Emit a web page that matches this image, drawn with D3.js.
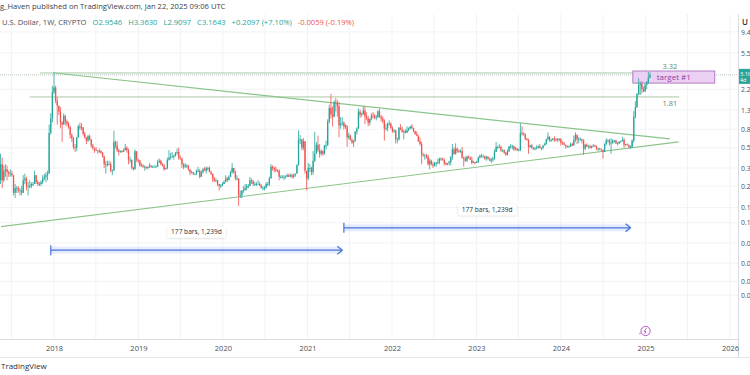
<!DOCTYPE html>
<html><head><meta charset="utf-8">
<script src="https://cdn.jsdelivr.net/npm/d3@7"></script>
<style>
body{margin:0;background:#fff;}
svg{display:block;font-family:"Open Sans","Liberation Sans",sans-serif;}
</style>
</head><body>
<svg id="c" width="750" height="375"></svg>
<script>
// ---------- DATA ----------
const startWeek = "2017-05-01";   // first weekly bar (Monday)
const firstOpen = 0.08;
const closes = [
 0.17,0.22,0.33,0.22,0.28, 0.29,0.27,0.26,0.26, 0.25,0.16,0.18,0.18,0.17, 0.17,0.16,0.22,0.23, 0.19,0.19,0.19,0.20, 0.20,0.25,0.21,0.20,0.20, 0.21,0.23,0.24,0.25, 0.26,0.73,1.05,2.05,
 2.30,1.65,1.45,1.25,0.95, 0.90,1.12,0.98,0.92, 0.84,0.69,0.64,0.51, 0.50,0.65,0.86,0.83,0.84, 0.71,0.65,0.60,0.67, 0.62,0.53,0.50,0.48, 0.47,0.46,0.46,0.44,0.40, 0.33,0.33,0.33,0.33, 0.28,0.28,0.58,0.53, 0.47,0.45,0.46,0.45,0.47, 0.50,0.47,0.37,0.37, 0.30,0.29,0.46,0.37,0.36,
 0.32,0.32,0.31,0.31, 0.30,0.31,0.32,0.31, 0.31,0.31,0.31,0.35, 0.36,0.33,0.32,0.29,0.30, 0.37,0.39,0.40,0.40, 0.41,0.44,0.45,0.39, 0.38,0.33,0.31,0.32,0.32, 0.29,0.27,0.27,0.26, 0.26,0.28,0.28,0.24,0.27, 0.29,0.28,0.30,0.30, 0.27,0.26,0.23,0.22, 0.22,0.20,0.19,0.19,0.20,
 0.21,0.23,0.22,0.24, 0.27,0.30,0.27,0.23, 0.23,0.15,0.15,0.17,0.17, 0.18,0.19,0.19,0.22, 0.22,0.20,0.20,0.20, 0.20,0.19,0.18,0.18,0.18, 0.20,0.20,0.23,0.31, 0.30,0.29,0.28,0.28,0.24, 0.24,0.24,0.24,0.24, 0.25,0.24,0.25,0.24, 0.25,0.26,0.32,0.62,0.62, 0.50,0.59,0.28,0.23,
 0.30,0.30,0.27,0.36, 0.43,0.54,0.47,0.43, 0.46,0.43,0.53,0.53,0.97, 1.37,1.16,1.10,1.58, 1.55,1.43,0.88,0.92,0.94, 0.85,0.88,0.65,0.68, 0.61,0.57,0.59,0.75, 0.81,1.25,1.15,1.17,1.28, 1.10,1.05,0.94,1.04, 1.13,1.12,1.07,1.08, 1.26,1.10,1.05,0.99,0.81, 0.82,0.92,0.92,0.83,
 0.76,0.78,0.62,0.62,0.83, 0.80,0.75,0.76,0.73, 0.78,0.82,0.86,0.82, 0.76,0.71,0.68,0.59, 0.55,0.42,0.41,0.41,0.40, 0.33,0.36,0.33,0.32, 0.34,0.34,0.35,0.38, 0.38,0.37,0.34,0.33,0.34, 0.35,0.40,0.48,0.43, 0.49,0.46,0.45,0.46,0.39, 0.38,0.36,0.40,0.39, 0.37,0.34,0.35,0.34,
 0.35,0.39,0.41,0.40,0.40, 0.38,0.40,0.38,0.36, 0.37,0.38,0.45,0.51, 0.51,0.51,0.47,0.47, 0.44,0.42,0.46,0.52,0.52, 0.52,0.48,0.49,0.47, 0.47,0.73,0.72,0.70,0.63, 0.61,0.51,0.53,0.50, 0.48,0.49,0.50,0.52, 0.50,0.50,0.53,0.55,0.62, 0.66,0.61,0.61,0.63, 0.62,0.61,0.62,0.62,
 0.57,0.56,0.54,0.52,0.51, 0.52,0.55,0.53,0.61, 0.70,0.62,0.62,0.62, 0.60,0.49,0.54,0.52,0.52, 0.50,0.52,0.53,0.52, 0.49,0.49,0.48,0.47, 0.45,0.55,0.60,0.61,0.56, 0.57,0.60,0.60,0.56, 0.56,0.58,0.59,0.61,0.54, 0.55,0.54,0.51,0.51, 0.60,1.10,1.40,1.95, 2.45,2.52,2.20,2.08,2.45,
 2.62,2.9546,3.1643
];
const highs = [
 0.20,0.25,0.43,0.39,0.32, 0.33,0.32,0.28,0.29, 0.28,0.25,0.20,0.19,0.19, 0.18,0.19,0.25,0.26, 0.24,0.21,0.22,0.21, 0.21,0.28,0.25,0.22,0.21, 0.22,0.25,0.26,0.27, 0.28,0.90,1.20,2.40,
 3.40,2.40,1.80,1.45,1.40, 0.98,1.20,1.15,1.02, 0.96,0.87,0.72,0.66, 0.55,0.66,0.90,0.95,0.93, 0.84,0.75,0.65,0.69, 0.70,0.62,0.55,0.50, 0.51,0.47,0.49,0.47,0.45, 0.41,0.36,0.36,0.36, 0.35,0.29,0.77,0.60, 0.59,0.49,0.47,0.47,0.49, 0.55,0.52,0.49,0.40, 0.37,0.31,0.48,0.45,0.38,
 0.37,0.34,0.33,0.32, 0.31,0.31,0.34,0.32, 0.32,0.32,0.32,0.37, 0.38,0.37,0.34,0.33,0.30, 0.39,0.47,0.44,0.45, 0.42,0.45,0.49,0.50, 0.41,0.39,0.34,0.34,0.33, 0.32,0.29,0.28,0.27, 0.26,0.29,0.31,0.29,0.28, 0.30,0.31,0.31,0.31, 0.31,0.28,0.26,0.24, 0.23,0.22,0.20,0.20,0.21,
 0.22,0.25,0.24,0.25, 0.28,0.34,0.30,0.28, 0.25,0.23,0.17,0.17,0.19, 0.20,0.20,0.20,0.24, 0.23,0.21,0.21,0.21, 0.22,0.21,0.20,0.19,0.19, 0.21,0.21,0.24,0.33, 0.32,0.31,0.31,0.29,0.29, 0.25,0.25,0.25,0.25, 0.26,0.26,0.26,0.26, 0.26,0.26,0.33,0.78,0.69, 0.62,0.64,0.59,0.26,
 0.34,0.33,0.31,0.46, 0.75,0.58,0.68,0.55, 0.48,0.47,0.54,0.60,1.03, 1.49,1.96,1.43,1.66, 1.76,1.67,1.60,1.09,1.08, 0.98,0.91,0.82,0.73, 0.70,0.64,0.61,0.76, 0.84,1.36,1.31,1.22,1.41, 1.41,1.23,1.12,1.05, 1.20,1.24,1.18,1.15, 1.29,1.35,1.15,1.11,1.03, 0.91,0.95,1.00,0.95,
 0.86,0.80,0.78,0.65,0.85, 0.91,0.85,0.78,0.80, 0.86,0.84,0.87,0.91, 0.83,0.77,0.76,0.69, 0.65,0.58,0.44,0.43,0.43, 0.42,0.38,0.37,0.35, 0.35,0.35,0.38,0.39, 0.39,0.39,0.38,0.35,0.34, 0.36,0.40,0.55,0.51, 0.56,0.50,0.48,0.48,0.51, 0.40,0.40,0.41,0.41, 0.40,0.40,0.36,0.35,
 0.36,0.40,0.42,0.43,0.42, 0.41,0.41,0.40,0.39, 0.39,0.40,0.48,0.58, 0.53,0.55,0.53,0.48, 0.48,0.45,0.48,0.52,0.55, 0.54,0.53,0.51,0.50, 0.49,0.93,0.86,0.74,0.72, 0.64,0.63,0.54,0.55, 0.51,0.51,0.53,0.53, 0.55,0.51,0.54,0.57,0.63, 0.74,0.67,0.63,0.64, 0.67,0.64,0.64,0.64,
 0.64,0.59,0.58,0.54,0.53, 0.53,0.57,0.57,0.68, 0.74,0.68,0.66,0.65, 0.63,0.62,0.55,0.56,0.54, 0.54,0.53,0.55,0.54, 0.53,0.50,0.50,0.49, 0.48,0.56,0.64,0.62,0.62, 0.64,0.62,0.61,0.61, 0.58,0.59,0.60,0.66,0.64, 0.55,0.56,0.54,0.53, 0.62,1.26,1.63,2.00, 2.90,2.65,2.70,2.35,2.55,
 2.70,3.40,3.3630
];
const lows = [
 0.07,0.16,0.20,0.18,0.21, 0.24,0.22,0.24,0.24, 0.24,0.15,0.14,0.16,0.16, 0.15,0.15,0.16,0.20, 0.17,0.15,0.18,0.18, 0.19,0.20,0.20,0.19,0.19, 0.19,0.20,0.22,0.21, 0.22,0.26,0.70,0.95,
 1.95,1.55,0.90,1.15,0.82, 0.58,0.90,0.88,0.86, 0.81,0.63,0.58,0.48, 0.45,0.46,0.65,0.78,0.78, 0.68,0.63,0.55,0.58, 0.60,0.50,0.47,0.44, 0.46,0.43,0.44,0.43,0.39, 0.30,0.26,0.31,0.32, 0.27,0.25,0.28,0.49, 0.45,0.41,0.44,0.44,0.45, 0.47,0.44,0.33,0.34, 0.29,0.28,0.29,0.35,0.34,
 0.31,0.31,0.30,0.28, 0.29,0.29,0.30,0.30, 0.30,0.31,0.30,0.31, 0.34,0.32,0.31,0.28,0.29, 0.29,0.36,0.37,0.39, 0.37,0.40,0.42,0.37, 0.37,0.30,0.29,0.30,0.30, 0.28,0.25,0.26,0.25, 0.25,0.25,0.27,0.23,0.24, 0.26,0.28,0.26,0.28, 0.27,0.25,0.21,0.21, 0.21,0.19,0.17,0.18,0.19,
 0.20,0.21,0.21,0.22, 0.24,0.26,0.26,0.22, 0.22,0.115,0.14,0.14,0.16, 0.17,0.17,0.18,0.19, 0.20,0.19,0.19,0.19, 0.20,0.19,0.18,0.17,0.17, 0.18,0.19,0.19,0.23, 0.28,0.27,0.27,0.27,0.22, 0.23,0.23,0.22,0.23, 0.24,0.24,0.24,0.23, 0.23,0.24,0.26,0.32,0.55, 0.47,0.47,0.26,0.17,
 0.22,0.27,0.25,0.25, 0.35,0.45,0.45,0.39, 0.41,0.41,0.42,0.48,0.53, 0.93,1.05,0.86,1.08, 1.25,1.10,0.65,0.81,0.88, 0.79,0.81,0.51,0.62, 0.60,0.55,0.51,0.59, 0.70,0.81,1.06,1.09,1.15, 0.91,1.00,0.86,0.88, 1.00,1.05,1.03,1.00, 1.07,1.07,0.97,0.93,0.60, 0.77,0.76,0.88,0.80,
 0.73,0.73,0.56,0.56,0.60, 0.78,0.73,0.62,0.72, 0.73,0.76,0.80,0.80, 0.74,0.69,0.67,0.58, 0.53,0.33,0.40,0.37,0.38, 0.32,0.29,0.32,0.30, 0.31,0.31,0.33,0.33, 0.36,0.36,0.32,0.32,0.32, 0.32,0.32,0.37,0.42, 0.42,0.44,0.44,0.44,0.38, 0.31,0.35,0.35,0.38, 0.37,0.33,0.34,0.33,
 0.34,0.34,0.38,0.39,0.39, 0.37,0.36,0.37,0.36, 0.34,0.35,0.37,0.45, 0.48,0.50,0.45,0.45, 0.43,0.41,0.41,0.45,0.49, 0.48,0.46,0.47,0.46, 0.46,0.46,0.68,0.68,0.61, 0.60,0.43,0.50,0.49, 0.48,0.47,0.48,0.49, 0.49,0.47,0.48,0.53,0.54, 0.60,0.58,0.58,0.60, 0.58,0.59,0.58,0.59,
 0.53,0.54,0.53,0.49,0.50, 0.50,0.51,0.52,0.53, 0.58,0.55,0.56,0.60, 0.56,0.42,0.47,0.51,0.49, 0.49,0.49,0.51,0.51, 0.47,0.46,0.47,0.46, 0.38,0.45,0.53,0.57,0.53, 0.43,0.55,0.57,0.55, 0.53,0.55,0.57,0.59,0.50, 0.52,0.53,0.49,0.49, 0.50,0.57,1.05,1.37, 1.90,1.90,1.97,2.05,2.05,
 2.20,2.52,2.9097
];
const yearTicks = ["2018","2019","2020","2021","2022","2023","2024","2025","2026"];
const priceTicks = [9.4, 5.5, 2.2, 1.3, 0.8, 0.5, 0.3, 0.19, 0.11, 0.075, 0.045, 0.027, 0.017, 0.012];
const lastPrice = 3.1643;
const headerLine1 = "g_Haven published on TradingView.com, Jan 22, 2025 09:06 UTC";
const headerSymbol = "U.S. Dollar, 1W, CRYPTO";
const headerOHLC = ["O2.9546","H3.3630","L2.9097","C3.1643","+0.2097 (+7.10%)"];
const headerChange = "-0.0059 (-0.19%)";
// drawings (date, price)
const triangleTop = [["2018-01-04", 3.32], ["2025-04-16", 0.626]];
const triangleBottom = [["2017-05-17", 0.068], ["2025-05-24", 0.58]];
const levels = [
  {price: 3.32, label: "3.32", from: "2017-11-01", to: "2025-05-27", pos: "above"},
  {price: 1.81, label: "1.81", from: "2017-09-18", to: "2025-05-27", pos: "below"}
];
const targetBox = {from: "2024-11-07", to: "2025-10-27", top: 3.49, bottom: 2.57, label: "target #1"};
const ranges = [
  {from: "2017-12-18", to: "2021-05-31", price: 0.0375, label: "177 bars, 1,239d"},
  {from: "2021-06-07", to: "2024-10-28", price: 0.066, label: "177 bars, 1,239d"}
];
const eventDate = "2025-01-01";

// ---------- CHART ----------
const svg = d3.select("#c");
const W = 750, H = 375;
const paneRight = 738, paneTop = 14, paneBottom = 339;
const parse = d3.utcParse("%Y-%m-%d");
const x = d3.scaleUtc().domain([parse("2018-01-01"), parse("2026-01-01")]).range([54, 730]);
const y = d3.scaleLog().domain([0.01, 10]).range([302.4, 29.4]);

const start = parse(startWeek);
const bars = closes.map((c, i) => ({
  date: d3.utcMonday.offset(start, i),
  o: i === 0 ? firstOpen : closes[i - 1],
  h: highs[i], l: lows[i], c: c
}));

svg.append("rect").attr("width", W).attr("height", H).attr("fill", "#fff");

const defs = svg.append("defs");
defs.append("clipPath").attr("id", "pane")
  .append("rect").attr("x", 0).attr("y", paneTop).attr("width", paneRight).attr("height", paneBottom - paneTop);
const shadow = defs.append("filter").attr("id", "sh").attr("x", "-20%").attr("y", "-40%").attr("width", "140%").attr("height", "180%");
shadow.append("feDropShadow").attr("dx", 0).attr("dy", 0.5).attr("stdDeviation", 1).attr("flood-color", "#000").attr("flood-opacity", 0.18);

const pane = svg.append("g").attr("clip-path", "url(#pane)");

// grid
const gridDates = [];
yearTicks.forEach(t => { gridDates.push(parse(t + "-01-01")); gridDates.push(parse(t + "-07-01")); });
gridDates.push(parse("2017-07-01"));
pane.append("g").selectAll("line").data(gridDates).join("line")
  .attr("x1", d => x(d)).attr("x2", d => x(d)).attr("y1", paneTop).attr("y2", paneBottom)
  .attr("stroke", "#f1f3f6").attr("stroke-width", 1);
pane.append("g").selectAll("line").data(priceTicks).join("line")
  .attr("x1", 0).attr("x2", paneRight).attr("y1", d => y(d)).attr("y2", d => y(d))
  .attr("stroke", "#f1f3f6").attr("stroke-width", 1);

// horizontal level lines
levels.forEach(L => {
  const x1 = x(parse(L.from)), x2 = x(parse(L.to)), yy = y(L.price);
  pane.append("line").attr("x1", x1).attr("x2", x2).attr("y1", yy).attr("y2", yy)
    .attr("stroke", "#a9c9a4").attr("stroke-width", 1);
  pane.append("text").attr("x", x2 - 2).attr("y", L.pos === "above" ? yy - 4 : yy + 9)
    .attr("text-anchor", "end").attr("font-size", 7.5).attr("fill", "#5d8a6a").text(L.label);
});

// current price line
pane.append("line").attr("x1", 0).attr("x2", paneRight).attr("y1", y(lastPrice)).attr("y2", y(lastPrice))
  .attr("stroke", "#b8c4c2").attr("stroke-width", 1).attr("stroke-dasharray", "1,1");

// triangle lines
const tl = d3.line().x(d => x(parse(d[0]))).y(d => y(d[1]));
[triangleTop, triangleBottom].forEach(t => {
  pane.append("path").attr("d", tl(t)).attr("fill", "none").attr("stroke", "#8cc48a").attr("stroke-width", 1.2);
});

// target box
const bx1 = x(parse(targetBox.from)), bx2 = x(parse(targetBox.to));
const by1 = y(targetBox.top), by2 = y(targetBox.bottom);
pane.append("rect").attr("x", bx1).attr("y", by1).attr("width", bx2 - bx1).attr("height", by2 - by1)
  .attr("fill", "#ecd0f3").attr("stroke", "#b27ec2").attr("stroke-width", 1);
pane.append("text").attr("x", (bx1 + bx2) / 2).attr("y", (by1 + by2) / 2 + 2.8)
  .attr("text-anchor", "middle").attr("font-size", 8).attr("fill", "#8e3fa3").text(targetBox.label);

// candles
const up = "#26a69a", down = "#ef5350";
const cg = pane.append("g");
cg.selectAll("line").data(bars).join("line")
  .attr("x1", d => x(d.date)).attr("x2", d => x(d.date))
  .attr("y1", d => y(d.h)).attr("y2", d => y(d.l))
  .attr("stroke", d => d.c >= d.o ? up : down).attr("stroke-width", 0.8);
cg.selectAll("rect").data(bars).join("rect")
  .attr("x", d => x(d.date) - 0.65).attr("width", 1.3)
  .attr("y", d => y(Math.max(d.o, d.c)))
  .attr("height", d => Math.max(0.8, Math.abs(y(d.o) - y(d.c))))
  .attr("fill", d => d.c >= d.o ? up : down);

// date range measurements
ranges.forEach(r => {
  const x1 = x(parse(r.from)), x2 = x(parse(r.to)), yy = y(r.price);
  const g = pane.append("g");
  g.append("rect").attr("x", x1).attr("y", yy - 3.5).attr("width", x2 - x1).attr("height", 7)
    .attr("fill", "#2962ff").attr("fill-opacity", 0.12);
  g.append("line").attr("x1", x1).attr("x2", x2).attr("y1", yy).attr("y2", yy)
    .attr("stroke", "#4a72d6").attr("stroke-width", 1.2);
  g.append("line").attr("x1", x1).attr("x2", x1).attr("y1", yy - 5).attr("y2", yy + 5)
    .attr("stroke", "#4a72d6").attr("stroke-width", 1.2);
  g.append("path").attr("d", `M${x2 - 5},${yy - 4}L${x2},${yy}L${x2 - 5},${yy + 4}`)
    .attr("fill", "none").attr("stroke", "#4a72d6").attr("stroke-width", 1.2);
  const cx = (x1 + x2) / 2, cy = yy - 18;
  g.append("rect").attr("x", cx - 29).attr("y", cy - 5.5).attr("width", 58).attr("height", 11)
    .attr("rx", 1.5).attr("fill", "#fff").attr("filter", "url(#sh)");
  g.append("text").attr("x", cx).attr("y", cy + 2.3).attr("text-anchor", "middle")
    .attr("font-size", 6.6).attr("fill", "#2a2e39").text(r.label);
});

// event icon
const ex = x(parse(eventDate)), ey = 331;
const eg = svg.append("g");
eg.append("circle").attr("cx", ex).attr("cy", ey).attr("r", 4.6).attr("fill", "#fff")
  .attr("stroke", "#b25cc9").attr("stroke-width", 1);
eg.append("path").attr("d", `M${ex + 1},${ey - 3}L${ex - 1.5},${ey + 0.5}L${ex + 0.5},${ey + 0.5}L${ex - 1},${ey + 3}`)
  .attr("fill", "none").attr("stroke", "#b25cc9").attr("stroke-width", 0.9);
eg.append("path").attr("d", `M${ex - 4.6},${ey + 2}L${ex - 6.5},${ey + 2.5}`)
  .attr("stroke", "#b25cc9").attr("stroke-width", 0.8);

// frame lines
svg.append("line").attr("x1", paneRight + 0.5).attr("x2", paneRight + 0.5).attr("y1", paneTop).attr("y2", 357)
  .attr("stroke", "#d9dbe0").attr("stroke-width", 1);
svg.append("line").attr("x1", 0).attr("x2", W).attr("y1", 357.5).attr("y2", 357.5)
  .attr("stroke", "#e6e8ec").attr("stroke-width", 1);

// x axis
const xAxis = d3.axisBottom(x).tickValues(yearTicks.map(t => parse(t + "-01-01")))
  .tickFormat(d3.utcFormat("%Y")).tickSize(0).tickPadding(7);
const xg = svg.append("g").attr("transform", `translate(0,${paneBottom})`).call(xAxis);
xg.select(".domain").attr("d", `M0,0.5H${paneRight}`).attr("stroke", "#d9dbe0");
xg.selectAll("text").attr("font-size", 7.5).attr("fill", "#4a4e59").attr("font-family", "Open Sans, sans-serif");

// y axis (the picture shows only the first characters of each label)
const yAxis = d3.axisRight(y).tickValues(priceTicks).tickFormat(d3.format(".1f")).tickSize(0).tickPadding(3);
const yg = svg.append("g").attr("transform", `translate(${paneRight},0)`).call(yAxis);
yg.select(".domain").remove();
yg.selectAll("text").attr("font-size", 6.8).attr("fill", "#4a4e59").attr("font-family", "Open Sans, sans-serif");

// axis header + last price label
svg.append("text").attr("x", paneRight + 4).attr("y", 25).attr("font-size", 8).attr("font-weight", 600)
  .attr("fill", "#2a2e39").text("U");
const ly = y(lastPrice);
svg.append("rect").attr("x", paneRight + 1).attr("y", ly - 6).attr("width", 20).attr("height", 15).attr("fill", "#26a69a");
svg.append("text").attr("x", paneRight + 2).attr("y", ly + 1).attr("font-size", 5.6).attr("fill", "#fff").text("3.16");
svg.append("text").attr("x", paneRight + 2).attr("y", ly + 7.5).attr("font-size", 5.4).attr("fill", "#fff").text("4d");

// header
svg.append("text").attr("x", 0).attr("y", 9).attr("font-size", 7.6).attr("fill", "#3a3e49").text(headerLine1);
const hdr = svg.append("text").attr("x", 2).attr("y", 25).attr("font-size", 7.6);
hdr.append("tspan").attr("fill", "#4a4e59").text(headerSymbol);
headerOHLC.forEach(s => hdr.append("tspan").attr("dx", 6).attr("fill", "#26a69a").text(s));
hdr.append("tspan").attr("dx", 6).attr("fill", "#ef5350").text(headerChange);

// footer
svg.append("text").attr("x", 1).attr("y", 369).attr("font-size", 8).attr("fill", "#2a2e39").text("TradingView");
</script>
</body></html>
